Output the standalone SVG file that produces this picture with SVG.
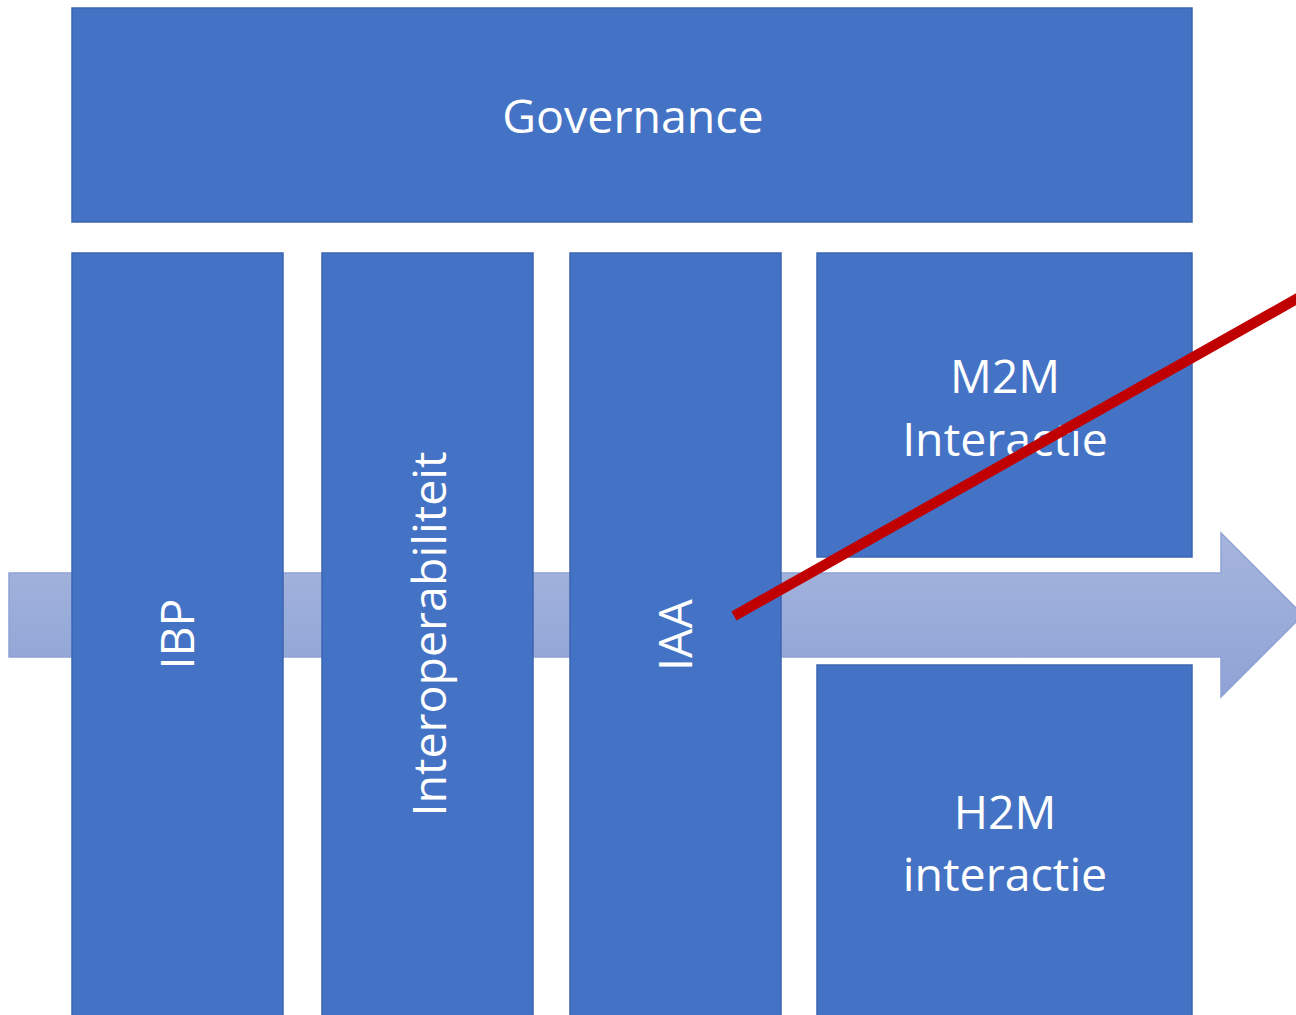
<svg xmlns="http://www.w3.org/2000/svg" width="1296" height="1015" viewBox="0 0 1296 1015">
<style>
.box{fill:#4472C4;stroke:#3c66b2;stroke-width:1.5}
.lbl{fill:#ffffff;font-family:"Open Sans","Noto Sans","DejaVu Sans",sans-serif;font-size:46.5px;text-anchor:middle}
</style>
<defs>
<linearGradient id="ag" x1="0" y1="0" x2="0" y2="1">
<stop offset="0" stop-color="#a6b5dd"/>
<stop offset="1" stop-color="#8ea3d5"/>
</linearGradient>
</defs>
<rect width="1296" height="1015" fill="#ffffff"/>
<g id="flow-arrow">
<polygon points="9,573 1221,573 1221,533 1303,615 1221,697 1221,657 9,657" fill="url(#ag)" stroke="#8da2d3" stroke-width="1.5"/>
</g>
<g id="governance">
<rect class="box" x="72" y="8" width="1120" height="214"/>
<text class="lbl" x="633" y="133">Governance</text>
</g>
<g id="ibp">
<rect class="box" x="72" y="253" width="211" height="770"/>
<text class="lbl" transform="translate(194,634) rotate(-90)">IBP</text>
</g>
<g id="interoperabiliteit">
<rect class="box" x="322" y="253" width="211" height="770"/>
<text class="lbl" transform="translate(446,634) rotate(-90)">Interoperabiliteit</text>
</g>
<g id="iaa">
<rect class="box" x="570" y="253" width="211" height="770"/>
<text class="lbl" transform="translate(692,635) rotate(-90)">IAA</text>
</g>
<g id="m2m">
<rect class="box" x="817" y="253" width="375" height="304"/>
<text class="lbl" x="1005" y="393">M2M</text>
<text class="lbl" x="1005" y="456">Interactie</text>
</g>
<g id="h2m">
<rect class="box" x="817" y="665" width="375" height="360"/>
<text class="lbl" x="1005" y="829">H2M</text>
<text class="lbl" x="1005" y="891">interactie</text>
</g>
<g id="connectors">
<line x1="734" y1="616" x2="1300" y2="297" stroke="#C00000" stroke-width="10.5"/>
</g>
</svg>
